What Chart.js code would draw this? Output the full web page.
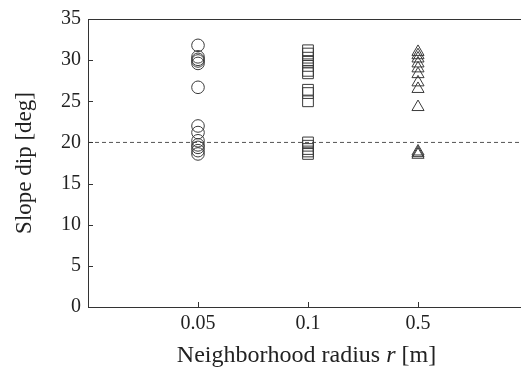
<!DOCTYPE html>
<html lang="en">
<head>
    <meta charset="UTF-8">
    <title>Slope dip</title>
    <script src="https://cdn.jsdelivr.net/npm/chart.js"></script>
    <style>
        html, body { margin: 0; padding: 0; background: #fff; overflow: hidden; }
        #wrap { width: 530px; height: 370px; }
    </style>
</head>
<body>
<div id="wrap"><canvas id="dipChart" width="530" height="370"></canvas></div>
<script>
    // neighborhood radius categories (m)
    const radii = ["0.05", "0.1", "0.5"];
    const yTicks = [0, 5, 10, 15, 20, 25, 30, 35];
    const refDip = 20;

    // slope dips, one list per radius
    const dips005 = [31.8, 30.4, 30.1, 29.9, 29.6, 26.7, 22.0, 21.2, 20.2, 19.7, 19.4, 19.0, 18.6];
    const dips01 = [31.2, 30.8, 30.3, 29.8, 29.3, 28.7, 28.4, 26.4, 26.0, 25.0, 20.0, 19.6, 19.2, 18.9, 18.6];
    const dips05 = [31.0, 30.6, 30.2, 29.6, 29.0, 28.3, 27.3, 26.5, 24.3, 18.9, 18.7, 18.5];

    const serif = "'Liberation Serif', 'Times New Roman', serif";
    const ink = "#222";

    function toPoints(vals, idx) {
        return vals.map((v) => ({ x: idx + 1, y: v }));
    }

    // box edge, inward ticks and mixed-style x title
    const framePlugin = {
        id: "frame",
        afterDraw(chart) {
            const { ctx, chartArea, scales } = chart;
            const xs = scales.x, ys = scales.y;
            ctx.save();
            ctx.strokeStyle = "#333";
            ctx.lineWidth = 1;
            ctx.beginPath();
            ctx.moveTo(chartArea.left, chartArea.top + 0.5);
            ctx.lineTo(chartArea.right, chartArea.top + 0.5);
            yTicks.forEach((t) => {
                const py = Math.round(ys.getPixelForValue(t)) + 0.5;
                ctx.moveTo(chartArea.left, py);
                ctx.lineTo(chartArea.left + 5, py);
            });
            radii.forEach((r, i) => {
                const px = Math.round(xs.getPixelForValue(i + 1)) + 0.5;
                ctx.moveTo(px, chartArea.bottom);
                ctx.lineTo(px, chartArea.bottom - 5);
            });
            ctx.stroke();

            // x title: "Neighborhood radius r [m]" with italic r
            const parts = [
                ["Neighborhood radius ", "24px " + serif],
                ["r", "italic 24px " + serif],
                [" [m]", "24px " + serif]
            ];
            let total = 0;
            parts.forEach((p) => { ctx.font = p[1]; total += ctx.measureText(p[0]).width; });
            let x = (chartArea.left + 521) / 2 - total / 2 + 2;
            ctx.fillStyle = ink;
            ctx.textBaseline = "middle";
            parts.forEach((p) => {
                ctx.font = p[1];
                ctx.fillText(p[0], x, 356);
                x += ctx.measureText(p[0]).width;
            });
            ctx.restore();
        }
    };

    const markerColor = "#3a3a3a";

    new Chart(document.getElementById("dipChart"), {
        type: "scatter",
        data: {
            datasets: [
                {
                    type: "line",
                    data: [{ x: 0, y: refDip }, { x: 4, y: refDip }],
                    borderColor: "#555",
                    borderWidth: 1,
                    borderDash: [4, 3],
                    pointRadius: 0,
                    order: 5
                },
                {
                    data: toPoints(dips005, 0),
                    pointStyle: "circle",
                    pointRadius: 6.3,
                    borderColor: markerColor,
                    backgroundColor: "rgba(0,0,0,0)",
                    borderWidth: 1
                },
                {
                    data: toPoints(dips01, 1),
                    pointStyle: "rect",
                    pointRadius: 7.6,
                    borderColor: markerColor,
                    backgroundColor: "rgba(0,0,0,0)",
                    borderWidth: 1
                },
                {
                    data: toPoints(dips05, 2),
                    pointStyle: "triangle",
                    pointRadius: 7,
                    borderColor: markerColor,
                    backgroundColor: "rgba(0,0,0,0)",
                    borderWidth: 1
                }
            ]
        },
        options: {
            responsive: false,
            animation: false,
            events: [],
            layout: { padding: { top: 18, right: 0, left: 0, bottom: 0 } },
            plugins: { legend: { display: false }, tooltip: { enabled: false } },
            scales: {
                x: {
                    type: "linear",
                    min: 0,
                    max: 3.94,
                    afterFit: (s) => { s.height = 63; s.paddingLeft = 0; s.paddingRight = 0; },
                    afterBuildTicks: (s) => { s.ticks = radii.map((r, i) => ({ value: i + 1 })); },
                    grid: { display: false, drawTicks: false },
                    border: { color: "#333", width: 1 },
                    ticks: {
                        padding: 5,
                        color: ink,
                        font: { family: serif, size: 20 },
                        callback: (v) => radii[v - 1]
                    }
                },
                y: {
                    min: 0,
                    max: 35,
                    afterFit: (s) => { s.width = 88; },
                    afterBuildTicks: (s) => { s.ticks = yTicks.map((t) => ({ value: t })); },
                    grid: { display: false, drawTicks: false },
                    border: { color: "#333", width: 1 },
                    ticks: {
                        padding: 7,
                        color: ink,
                        font: { family: serif, size: 20 }
                    },
                    title: {
                        display: true,
                        text: "Slope dip [deg]",
                        color: ink,
                        font: { family: serif, size: 23, lineHeight: 1.2 },
                        padding: { top: 11, bottom: 0 }
                    }
                }
            }
        },
        plugins: [framePlugin]
    });
</script>
</body>
</html>
